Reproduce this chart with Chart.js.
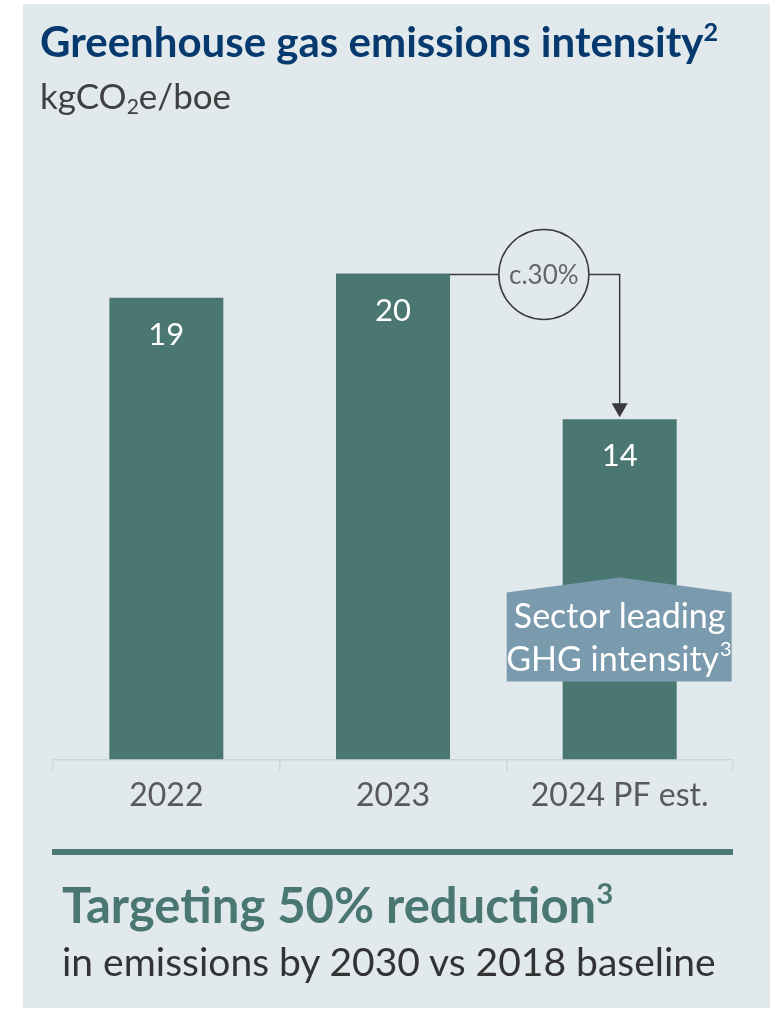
<!DOCTYPE html>
<html>
<head>
<meta charset="utf-8">
<script src="https://cdn.jsdelivr.net/npm/chart.js@4.4.1/dist/chart.umd.min.js"></script>
<style>
  body { margin: 0; background: #fff; width: 777px; height: 1011px; overflow: hidden; font-family: Lato, "Open Sans", sans-serif; }
  #panel { position: absolute; left: 23px; top: 4px; width: 747px; height: 1004px; background: #e1e9ed; }
  #wrap { position: absolute; left: 0; top: 0; width: 777px; height: 1011px; }
  .txt { position: absolute; white-space: nowrap; line-height: 1; }
  #title { left: 40px; top: 20px; font-size: 42px; font-weight: bold; color: #063a6e; }
  #unit { left: 40px; top: 78px; font-size: 35px; color: #404040; }
  #divider { position: absolute; left: 52px; top: 849px; width: 681px; height: 6px; background: #4a7772; }
  #target { left: 62px; top: 880px; font-size: 49px; font-weight: bold; color: #4a7772; }
  #sub { left: 62px; top: 942px; font-size: 39px; color: #333; }
  sup { font-size: 0.6em; vertical-align: 0.65em; line-height: 0; }
  sub { font-size: 0.6em; vertical-align: -0.25em; line-height: 0; }
</style>
</head>
<body>
<div id="panel"></div>
<div id="wrap"><canvas id="myChart" width="777" height="1011"></canvas></div>
<div class="txt" id="title">Greenhouse gas emissions intensity<sup>2</sup></div>
<div class="txt" id="unit">kgCO<sub>2</sub>e/boe</div>
<div id="divider"></div>
<div class="txt" id="target">Targeting 50% reduction<sup>3</sup></div>
<div class="txt" id="sub">in emissions by 2030 vs 2018 baseline</div>
<script>
const years = ['2022', '2023', '2024 PF est.'];
const intensity = [19, 20, 14];
const changeLabel = 'c.30%';
const boxLines = ['Sector leading', 'GHG intensity'];

const barColor = '#4a7772';
const fontFamily = 'Lato, "Open Sans", sans-serif';

// white value labels inside the bars
const valueLabels = {
  id: 'valueLabels',
  afterDatasetsDraw(chart) {
    const ctx = chart.ctx;
    const meta = chart.getDatasetMeta(0);
    ctx.save();
    ctx.fillStyle = '#ffffff';
    ctx.font = '31px ' + fontFamily;
    ctx.textAlign = 'center';
    ctx.textBaseline = 'middle';
    meta.data.forEach((bar, i) => {
      ctx.fillText(intensity[i], bar.x, bar.y + 37);
    });
    ctx.restore();
  }
};

// c.30% bracket arrow + "sector leading" callout
const callout = {
  id: 'callout',
  afterDatasetsDraw(chart) {
    const ctx = chart.ctx;
    const meta = chart.getDatasetMeta(0);
    const b1 = meta.data[1];
    const b2 = meta.data[2];
    const base = chart.scales.y.getPixelForValue(0);
    const ly = b1.y + 1;
    const cx = (b1.x + b1.width / 2 + b2.x) / 2 + 9;
    const r = 45;

    ctx.save();
    ctx.strokeStyle = '#3a3a3c';
    ctx.lineWidth = 1.5;
    ctx.beginPath();
    ctx.moveTo(b1.x + b1.width / 2, ly);
    ctx.lineTo(cx - r, ly);
    ctx.moveTo(cx + r, ly);
    ctx.lineTo(b2.x, ly);
    ctx.lineTo(b2.x, b2.y - 14);
    ctx.stroke();
    ctx.beginPath();
    ctx.arc(cx, ly, r, 0, Math.PI * 2);
    ctx.stroke();
    ctx.fillStyle = '#3a3a3c';
    ctx.beginPath();
    ctx.moveTo(b2.x - 8, b2.y - 16);
    ctx.lineTo(b2.x + 8, b2.y - 16);
    ctx.lineTo(b2.x, b2.y - 2);
    ctx.closePath();
    ctx.fill();
    ctx.fillStyle = '#666666';
    ctx.font = '26px ' + fontFamily;
    ctx.textAlign = 'center';
    ctx.textBaseline = 'middle';
    ctx.fillText(changeLabel, cx, ly + 1);

    // pentagon callout box
    const l = b2.x - 113, rr = b2.x + 112;
    const top = base - 182, sh = base - 167, bot = base - 78;
    ctx.fillStyle = '#7a9aae';
    ctx.beginPath();
    ctx.moveTo(l, sh);
    ctx.lineTo(b2.x, top);
    ctx.lineTo(rr, sh);
    ctx.lineTo(rr, bot);
    ctx.lineTo(l, bot);
    ctx.closePath();
    ctx.fill();
    ctx.fillStyle = '#ffffff';
    ctx.font = '34px ' + fontFamily;
    ctx.fillText(boxLines[0], b2.x, base - 143);
    const w = ctx.measureText(boxLines[1]).width;
    ctx.fillText(boxLines[1], b2.x - 7, base - 100);
    ctx.font = '20px ' + fontFamily;
    ctx.textAlign = 'left';
    ctx.fillText('3', b2.x - 7 + w / 2 + 1, base - 110);
    ctx.restore();
  }
};

const ctx = document.getElementById('myChart').getContext('2d');
const myChart = new Chart(ctx, {
  type: 'bar',
  data: {
    labels: years,
    datasets: [{
      data: intensity,
      backgroundColor: barColor,
      barPercentage: 1,
      categoryPercentage: 0.503
    }]
  },
  options: {
    responsive: false,
    animation: false,
    layout: { padding: { left: 53, right: 44, top: 152, bottom: 190 } },
    plugins: { legend: { display: false }, tooltip: { enabled: false } },
    scales: {
      y: { display: false, min: 0, max: 25 },
      x: {
        border: { color: '#cfd6da', width: 1.5 },
        grid: { drawOnChartArea: false, color: '#cfd6da', lineWidth: 1.5, tickLength: 11 },
        ticks: { color: '#595959', font: { family: fontFamily, size: 32 }, padding: 6 }
      }
    }
  },
  plugins: [valueLabels, callout]
});
</script>
</body>
</html>
